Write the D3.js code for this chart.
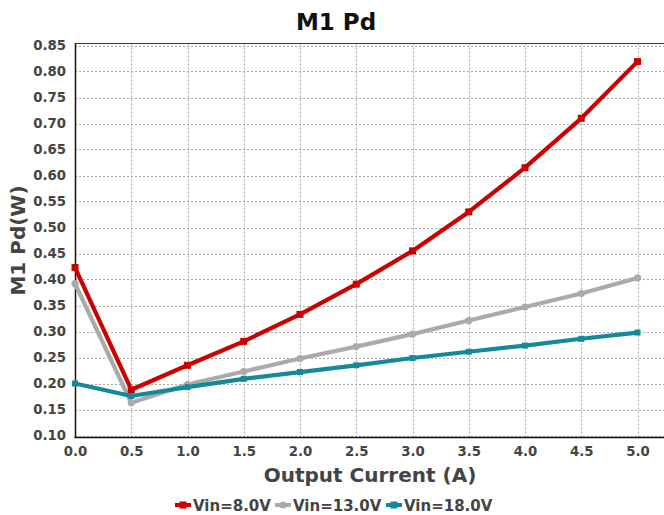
<!DOCTYPE html>
<html>
<head>
<meta charset="utf-8">
<script src="https://cdn.jsdelivr.net/npm/d3@7/dist/d3.min.js"></script>
<style>
  html, body { margin: 0; padding: 0; background: #fff; }
  svg { display: block; font-family: "DejaVu Sans", sans-serif; }
</style>
</head>
<body>
<svg id="chart" width="664" height="515"></svg>
<script>
// Output current (A)
const current = [0.0, 0.5, 1.0, 1.5, 2.0, 2.5, 3.0, 3.5, 4.0, 4.5, 5.0];
// M1 power dissipation (W) for each input voltage
const vin8 = [0.423, 0.188, 0.235, 0.281, 0.333, 0.391, 0.455, 0.530, 0.615, 0.710, 0.819];
const vin13 = [0.392, 0.163, 0.198, 0.223, 0.248, 0.271, 0.295, 0.321, 0.347, 0.373, 0.403];
const vin18 = [0.200, 0.176, 0.193, 0.209, 0.222, 0.235, 0.249, 0.261, 0.273, 0.286, 0.298];
const seriesNames = ["Vin=8.0V", "Vin=13.0V", "Vin=18.0V"];
const seriesColors = ["#cc0000", "#aaaaaa", "#13899a"];
const xTicks = [0, 0.5, 1, 1.5, 2, 2.5, 3, 3.5, 4, 4.5, 5];
const yTicks = [0.10, 0.15, 0.20, 0.25, 0.30, 0.35, 0.40, 0.45, 0.50, 0.55, 0.60, 0.65, 0.70, 0.75, 0.80, 0.85];

const series = [vin8, vin13, vin18].map((vals, i) => ({
  name: seriesNames[i], color: seriesColors[i],
  points: vals.map((v, j) => ({ x: current[j], y: v }))
}));

const svg = d3.select("#chart");
const plotLeft = 75, plotRight = 664, plotTop = 45.5, plotBottom = 435.5;

const x = d3.scaleLinear().domain([0, 5]).range([plotLeft, 637.5]);
const y = d3.scaleLinear().domain([0.10, 0.85]).range([plotBottom, plotTop]);

// grid
const grid = svg.append("g");
grid.selectAll("line.h").data(yTicks).join("line")
  .attr("x1", plotLeft).attr("x2", plotRight)
  .attr("y1", d => Math.round(y(d)) + 0.5).attr("y2", d => Math.round(y(d)) + 0.5)
  .attr("stroke", "#a8a8a8").attr("stroke-width", 1).attr("stroke-dasharray", "2,2");
grid.selectAll("line.v").data(xTicks.filter(d => d > 0)).join("line")
  .attr("x1", d => Math.round(x(d)) + 0.5).attr("x2", d => Math.round(x(d)) + 0.5)
  .attr("y1", plotTop - 2).attr("y2", plotBottom + 2)
  .attr("stroke", "#a8a8a8").attr("stroke-width", 1).attr("stroke-dasharray", "2,2");

// frame
svg.append("line").attr("x1", plotLeft).attr("x2", plotRight).attr("y1", 43.5).attr("y2", 43.5)
  .attr("stroke", "#444").attr("stroke-width", 1.2);
svg.append("line").attr("x1", plotLeft - 0.5).attr("x2", plotRight).attr("y1", 437.5).attr("y2", 437.5)
  .attr("stroke", "#111").attr("stroke-width", 1.5);
svg.append("line").attr("x1", 75.5).attr("x2", 75.5).attr("y1", 43).attr("y2", 438)
  .attr("stroke", "#111").attr("stroke-width", 1.5);

// axis labels via d3 axes
const yAxis = svg.append("g").attr("transform", `translate(${plotLeft},0)`)
  .call(d3.axisLeft(y).tickValues(yTicks).tickFormat(d3.format(".2f")).tickSize(0).tickPadding(9));
const xAxis = svg.append("g").attr("transform", `translate(0,${plotBottom})`)
  .call(d3.axisBottom(x).tickValues(xTicks).tickFormat(d3.format(".1f")).tickSize(0).tickPadding(11));
[yAxis, xAxis].forEach(g => {
  g.select(".domain").remove();
  g.selectAll("text").attr("font-family", "DejaVu Sans").attr("font-weight", "bold")
    .attr("font-size", 13.3).attr("fill", "#444");
});

// lines and markers
const line = d3.line().x(d => x(d.x)).y(d => y(d.y));
const plot = svg.append("g");
series.forEach(s => {
  plot.append("path").datum(s.points).attr("d", line)
    .attr("fill", "none").attr("stroke", s.color).attr("stroke-width", 4.2)
    .attr("stroke-linejoin", "round");
});
series.forEach((s, i) => {
  const g = plot.append("g");
  if (i === 1) {
    g.selectAll("circle").data(s.points).join("circle")
      .attr("cx", d => x(d.x)).attr("cy", d => y(d.y)).attr("r", 3.6).attr("fill", s.color);
  } else {
    const sz = i === 0 ? 7 : 6;
    g.selectAll("rect").data(s.points).join("rect")
      .attr("x", d => x(d.x) - sz / 2).attr("y", d => y(d.y) - sz / 2)
      .attr("width", sz).attr("height", sz).attr("fill", s.color);
  }
});

// titles
svg.append("text").attr("x", 336).attr("y", 30).attr("text-anchor", "middle")
  .attr("font-weight", "bold").attr("font-size", 23).attr("fill", "#111").text("M1 Pd");
svg.append("text").attr("x", 370).attr("y", 482).attr("text-anchor", "middle")
  .attr("font-weight", "bold").attr("font-size", 20).attr("fill", "#444").text("Output Current (A)");
svg.append("text").attr("transform", `translate(25,${(plotTop + plotBottom) / 2}) rotate(-90)`)
  .attr("text-anchor", "middle").attr("font-weight", "bold").attr("font-size", 20)
  .attr("fill", "#444").text("M1 Pd(W)");

// legend
const legend = svg.append("g");
const legendX = [175, 275, 386];
series.forEach((s, i) => {
  const g = legend.append("g").attr("transform", `translate(${legendX[i]},505)`);
  g.append("line").attr("x1", 0).attr("x2", 16).attr("y1", 0).attr("y2", 0)
    .attr("stroke", s.color).attr("stroke-width", 4);
  if (i === 1) g.append("circle").attr("cx", 8).attr("cy", 0).attr("r", 3.5).attr("fill", s.color);
  else g.append("rect").attr("x", 4.5).attr("y", -3.5).attr("width", 7).attr("height", 7).attr("fill", s.color);
  g.append("text").attr("x", 18).attr("y", 5.5).attr("font-weight", "bold")
    .attr("font-size", 15).attr("fill", "#444").text(s.name);
});
</script>
</body>
</html>
